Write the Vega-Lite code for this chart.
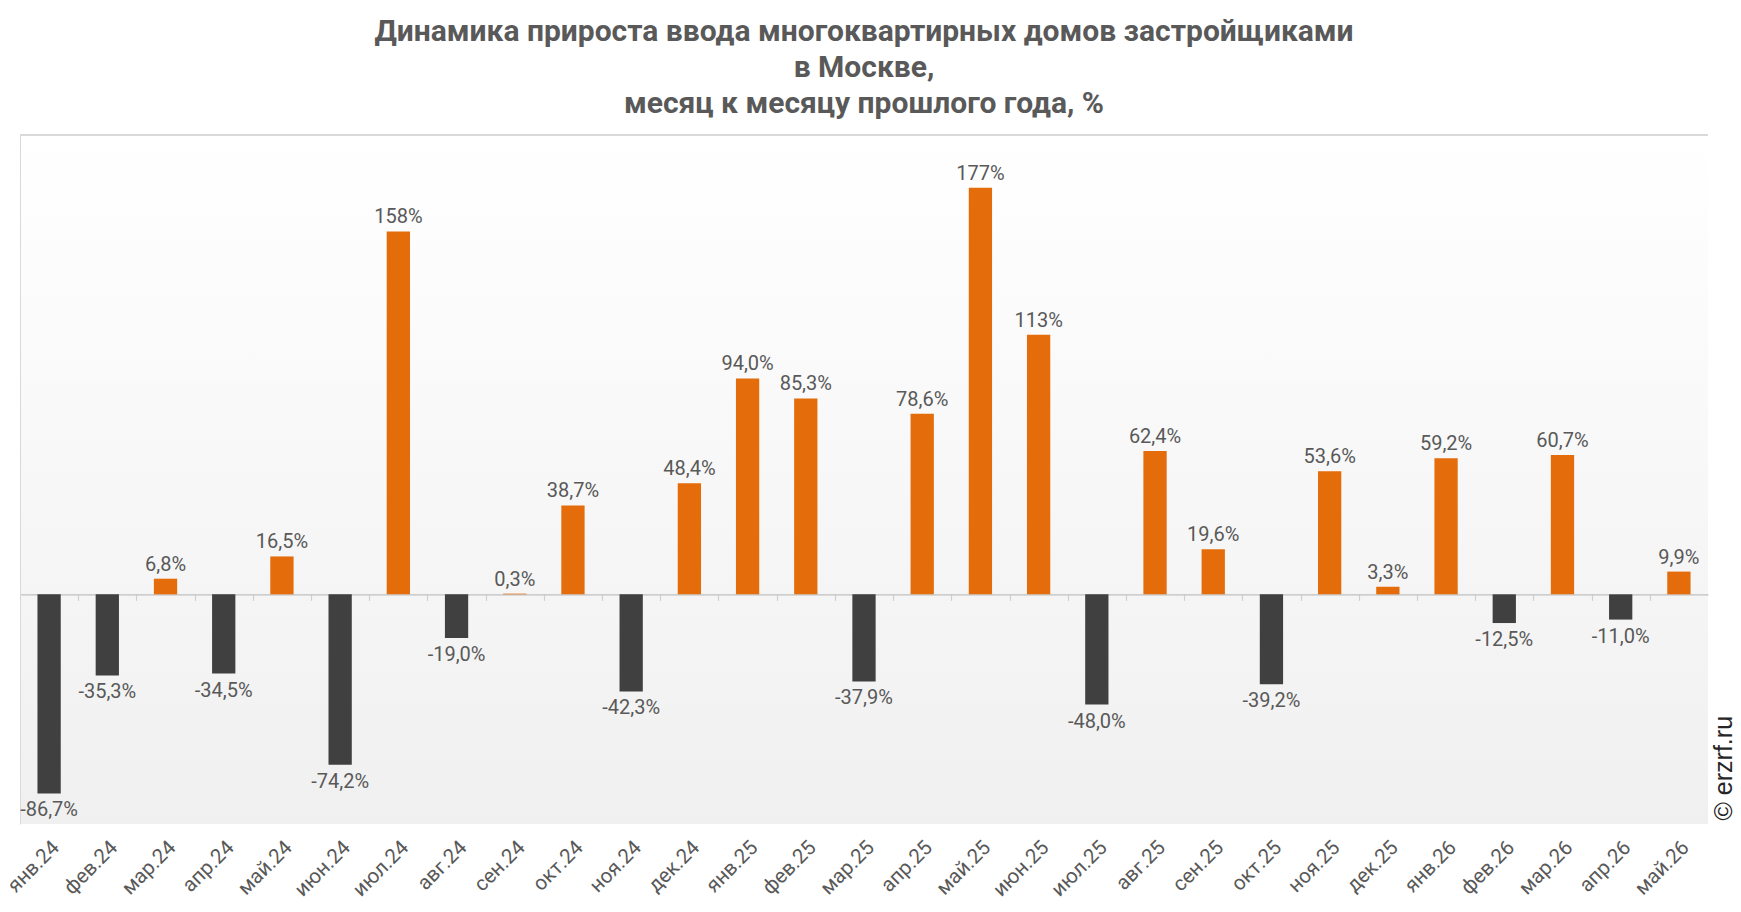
{
  "$schema": "https://vega.github.io/schema/vega-lite/v6.json",
  "width": 1688,
  "height": 689,
  "autosize": {"type": "none"},
  "padding": {"left": 20, "top": 135, "right": 33, "bottom": 88},
  "background": "#ffffff",
  "title": {
    "text": ["Динамика прироста ввода многоквартирных домов застройщиками", "в Москве,", "месяц к месяцу прошлого года, %"],
    "font": "Roboto",
    "fontSize": 30,
    "fontWeight": "bold",
    "color": "#595959",
    "lineHeight": 36,
    "anchor": "middle",
    "baseline": "bottom",
    "offset": -14
  },
  "config": {
    "view": {
      "fill": {"gradient": "linear", "x1": 0, "y1": 0, "x2": 0, "y2": 1, "stops": [{"offset": 0, "color": "#ffffff"}, {"offset": 1, "color": "#f0f0f0"}]},
      "stroke": null
    },
    "axis": {"grid": false}
  },
  "data": {
    "values": [
      {"month": "янв.24", "v": -86.7, "label": "-86,7%"},
      {"month": "фев.24", "v": -35.3, "label": "-35,3%"},
      {"month": "мар.24", "v": 6.8, "label": "6,8%"},
      {"month": "апр.24", "v": -34.5, "label": "-34,5%"},
      {"month": "май.24", "v": 16.5, "label": "16,5%"},
      {"month": "июн.24", "v": -74.2, "label": "-74,2%"},
      {"month": "июл.24", "v": 158, "label": "158%"},
      {"month": "авг.24", "v": -19.0, "label": "-19,0%"},
      {"month": "сен.24", "v": 0.3, "label": "0,3%"},
      {"month": "окт.24", "v": 38.7, "label": "38,7%"},
      {"month": "ноя.24", "v": -42.3, "label": "-42,3%"},
      {"month": "дек.24", "v": 48.4, "label": "48,4%"},
      {"month": "янв.25", "v": 94.0, "label": "94,0%"},
      {"month": "фев.25", "v": 85.3, "label": "85,3%"},
      {"month": "мар.25", "v": -37.9, "label": "-37,9%"},
      {"month": "апр.25", "v": 78.6, "label": "78,6%"},
      {"month": "май.25", "v": 177, "label": "177%"},
      {"month": "июн.25", "v": 113, "label": "113%"},
      {"month": "июл.25", "v": -48.0, "label": "-48,0%"},
      {"month": "авг.25", "v": 62.4, "label": "62,4%"},
      {"month": "сен.25", "v": 19.6, "label": "19,6%"},
      {"month": "окт.25", "v": -39.2, "label": "-39,2%"},
      {"month": "ноя.25", "v": 53.6, "label": "53,6%"},
      {"month": "дек.25", "v": 3.3, "label": "3,3%"},
      {"month": "янв.26", "v": 59.2, "label": "59,2%"},
      {"month": "фев.26", "v": -12.5, "label": "-12,5%"},
      {"month": "мар.26", "v": 60.7, "label": "60,7%"},
      {"month": "апр.26", "v": -11.0, "label": "-11,0%"},
      {"month": "май.26", "v": 9.9, "label": "9,9%"}
    ]
  },
  "layer": [
    {
      "mark": {"type": "bar"},
      "encoding": {
        "x": {
          "field": "month", "type": "nominal", "sort": null,
          "scale": {"paddingInner": 0.6, "paddingOuter": 0.3},
          "axis": {
            "orient": "bottom", "title": null, "domain": false, "ticks": false,
            "labelAngle": -45, "labelAlign": "right", "labelBaseline": "top",
            "labelFont": "Roboto", "labelFontSize": 20.5, "labelColor": "#595959",
            "labelPadding": 13
          }
        },
        "y": {
          "field": "v", "type": "quantitative",
          "scale": {"domain": [-100, 200], "nice": false},
          "axis": {"orient": "left", "title": null, "labels": false, "ticks": false, "domain": true, "domainColor": "#d9d9d9", "domainWidth": 1}
        },
        "color": {"condition": {"test": "datum.v < 0", "value": "#404040"}, "value": "#E46C0A"}
      }
    },
    {
      "transform": [{"filter": "datum.v >= 0"}],
      "mark": {"type": "text", "baseline": "bottom", "dy": -4, "font": "Roboto", "fontSize": 20, "color": "#595959"},
      "encoding": {
        "x": {
          "field": "month", "type": "nominal", "sort": null,
          "axis": {
            "orient": "bottom", "title": null, "labels": false,
            "domain": true, "domainColor": "#bfbfbf", "domainWidth": 1.2,
            "ticks": true, "tickColor": "#cfcfcf", "tickSize": 6, "tickWidth": 1.2,
            "bandPosition": 0.5, "tickOffset": -29.1, "offset": -229.67
          }
        },
        "y": {
          "field": "v", "type": "quantitative",
          "axis": {
            "orient": "right", "labels": false, "ticks": false, "domain": false,
            "title": "© erzrf.ru", "titleFont": "Liberation Sans", "titleFontSize": 25, "titleFontWeight": "normal",
            "titleColor": "#262626", "titleAngle": -90, "titleAlign": "left", "titleBaseline": "alphabetic",
            "titleX": 23, "titleY": 685
          }
        },
        "text": {"field": "label", "type": "nominal"}
      }
    },
    {
      "transform": [{"filter": "datum.v < 0"}],
      "mark": {"type": "text", "baseline": "top", "dy": 7, "font": "Roboto", "fontSize": 20, "color": "#595959"},
      "encoding": {
        "x": {"field": "month", "type": "nominal", "sort": null, "axis": null},
        "y": {"field": "v", "type": "quantitative", "axis": null},
        "text": {"field": "label", "type": "nominal"}
      }
    },
    {
      "mark": {"type": "rule", "color": "#d9d9d9", "strokeWidth": 1},
      "encoding": {
        "y": {"datum": 200, "type": "quantitative", "axis": null}
      }
    }
  ],
  "resolve": {"axis": {"x": "independent", "y": "independent"}}
}
